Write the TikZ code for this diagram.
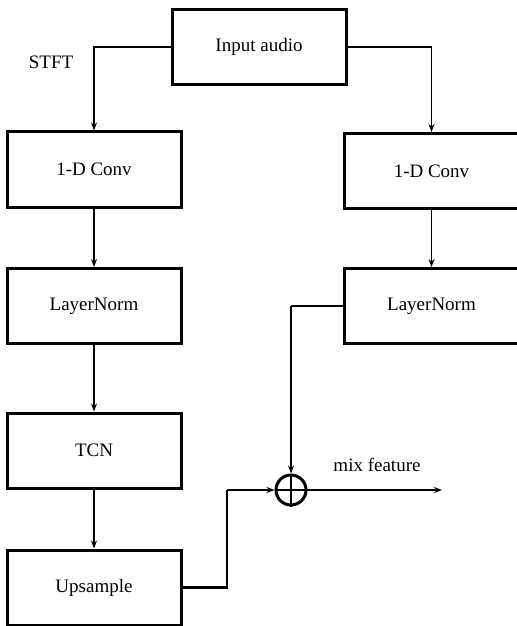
\documentclass[tikz,border=0pt]{standalone}
\usepackage{fontspec}
\setmainfont{Liberation Serif}
\usetikzlibrary{arrows.meta}

\tikzset{
  blk/.style={draw, line width=1.5pt, minimum width=87pt, minimum height=37.5pt, inner sep=0pt},
  sumnode/.style={draw, circle, line width=1.5pt, minimum size=15pt, inner sep=0pt},
  flow/.style={->, line width=0.6pt},
  >={Stealth[length=4pt, width=3pt]}
}

\begin{document}
\begin{tikzpicture}[x=0.5pt, y=-0.5pt, every node/.style={font=\fontsize{9.5}{11}\selectfont}]
  \useasboundingbox (0,0) rectangle (517,626);

  \node[blk] (inp) at (259,47) {Input audio};

  \node[blk] (conv1) at (94,169.5) {1-D Conv};
  \node[blk] (ln1) at (94,306) {LayerNorm};
  \node[blk] (tcn) at (94,450.5) {TCN};
  \node[blk] (up) at (94,587.5) {Upsample};

  \node[blk] (conv2) at (431.5,171) {1-D Conv};
  \node[blk] (ln2) at (431.5,306) {LayerNorm};

  \node[sumnode] (sum) at (291,490) {};
  \draw[line width=1.2pt] (sum.north) -- (sum.south) (sum.west) -- (sum.east);

  \node (stft) at (51,62) {STFT};
  \node (mix) at (377,465) {mix feature};

  \coordinate (bend) at (227,490);
  \coordinate (out) at (442,490);

  \draw[flow] (inp.west) -| (conv1.north);
  \draw[flow] (inp.east) -| (conv2.north);
  \draw[flow] (conv1) -- (ln1);
  \draw[flow] (ln1) -- (tcn);
  \draw[flow] (tcn) -- (up);
  \draw[flow] (conv2) -- (ln2);

  \draw[line width=1.3pt] (ln2.west) -- (ln2.west -| sum.north);
  \draw[flow] (ln2.west -| sum.north) -- (sum.north);
  \draw[line width=1.3pt] (up.east) -| (bend);
  \draw[flow] (bend) -- (sum.west);
  \draw[flow] (sum.east) -- (out);
\end{tikzpicture}
\end{document}
